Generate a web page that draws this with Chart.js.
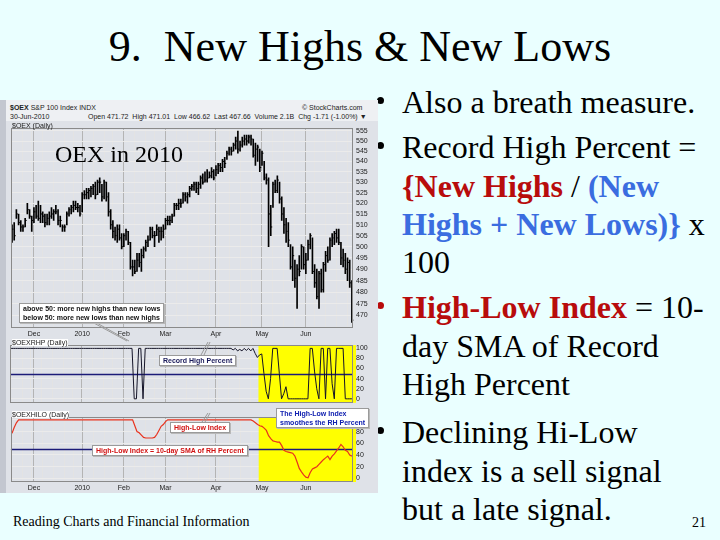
<!DOCTYPE html>
<html>
<head>
<meta charset="utf-8">
<script src="https://cdn.jsdelivr.net/npm/chart.js@4.4.1/dist/chart.umd.min.js"></script>
<style>
  body { margin:0; width:720px; height:540px; background:#eaffff; position:relative; overflow:hidden;
         font-family:"Liberation Serif","Times New Roman",serif; }
  .t { position:absolute; white-space:nowrap; line-height:1; }
  #title { left:0; width:720px; top:25px; text-align:center; font-size:44px; }
  .ln { left:402px; font-size:32px; }
  .dot { position:absolute; left:377px; width:7px; height:7px; border-radius:50%; background:#000; }
  .red { color:#b80c0c; font-weight:bold; }
  .blue { color:#3a6de0; font-weight:bold; }
  #frame { position:absolute; left:0; top:100px; width:378px; height:393px; background:#dfe2e8; }
  #edge { position:absolute; left:0; top:100px; width:6px; height:393px; background:#c3c7d0; }
  #head { position:absolute; left:6px; top:100px; width:372px; height:21px; background:#eef0f3; }
  .sm { position:absolute; white-space:nowrap; font-family:"Liberation Sans",Arial,sans-serif; font-size:7px; color:#222; line-height:1; }
  canvas { position:absolute; }
  .box { position:absolute; background:#fff; border:1px solid #9a9a9a; box-shadow:1px 1px 0 #b8b8b8;
         font-family:"Liberation Sans",Arial,sans-serif; font-size:7px; font-weight:bold; line-height:9px;
         white-space:nowrap; padding:0 3px; z-index:5; }
  svg { position:absolute; left:0; top:0; z-index:4; }
</style>
</head>
<body>
<div id="title" class="t">9.&nbsp; New Highs &amp; New Lows</div>

<div class="dot" style="top:97px"></div>
<div class="t ln" style="top:86px">Also a breath measure.</div>
<div class="dot" style="top:142px"></div>
<div class="t ln" style="top:131px">Record High Percent =</div>
<div class="t ln" style="top:170px"><span class="red">{New Highs</span> / <span class="blue">(New</span></div>
<div class="t ln" style="top:208px"><span class="blue">Highs + New Lows)}</span> x</div>
<div class="t ln" style="top:246px">100</div>
<div class="dot" style="top:302px;background:#b80c0c"></div>
<div class="t ln" style="top:291px"><span class="red">High-Low Index</span> = 10-</div>
<div class="t ln" style="top:330px">day SMA of Record</div>
<div class="t ln" style="top:368px">High Percent</div>
<div class="dot" style="top:427px"></div>
<div class="t ln" style="top:416px">Declining Hi-Low</div>
<div class="t ln" style="top:455px">index is a sell signal</div>
<div class="t ln" style="top:493px">but a late signal.</div>

<div class="t" style="left:13px;top:515px;font-size:14px">Reading Charts and Financial Information</div>
<div class="t" style="left:692px;top:516px;font-size:14px">21</div>

<div id="frame"></div>
<div id="edge"></div>
<div id="head"></div>
<div class="sm" style="left:10px;top:104px"><b>$OEX</b> S&amp;P 100 Index INDX</div>
<div class="sm" style="left:302px;top:104px">© StockCharts.com</div>
<div class="sm" style="left:10px;top:113px">30-Jun-2010</div>
<div class="sm" style="left:88px;top:113px">Open 471.72&nbsp; High 471.01&nbsp; Low 466.62&nbsp; Last 467.66&nbsp; Volume 2.1B&nbsp; Chg -1.71 (-1.00%) ▼</div>

<canvas id="price" width="368" height="217" style="left:10px;top:121px"></canvas>
<canvas id="rhp" width="368" height="72" style="left:10px;top:338px"></canvas>
<canvas id="hli" width="368" height="83" style="left:10px;top:410px"></canvas>

<div class="sm" style="left:12px;top:122px;z-index:3">$OEX (Daily)</div>
<div class="t" style="left:55px;top:142px;font-size:24px;z-index:3">OEX in 2010</div>
<div class="sm" style="left:12px;top:339px;z-index:3;background:#fff">$OEXRHP (Daily)</div>
<div class="sm" style="left:12px;top:411px;z-index:3;background:#fff">$OEXHILO (Daily)</div>

<svg width="720" height="540">
  <g stroke="#9a9a9a" stroke-width="1" fill="none">
    <line x1="92" y1="322" x2="127" y2="341"/>
    <line x1="95" y1="322" x2="129" y2="341"/>
    <line x1="201" y1="355" x2="208" y2="342"/>
    <line x1="204" y1="355" x2="210" y2="342"/>
    <line x1="202" y1="422" x2="208" y2="413"/>
    <line x1="205" y1="422" x2="210" y2="413"/>
  </g>
</svg>
<div class="box" style="left:19px;top:303px;color:#111">above 50: more new highs than new lows<br>below 50: more new lows than new highs</div>
<div class="box" style="left:159px;top:355px;color:#1a1a5a">Record High Percent</div>
<div class="box" style="left:170px;top:422px;color:#d01010">High-Low Index</div>
<div class="box" style="left:92px;top:445px;color:#d01010">High-Low Index = 10-day SMA of RH Percent</div>
<div class="box" style="left:276px;top:408px;color:#1020b0">The High-Low Index<br>smoothes the RH Percent</div>

<script>
const tradingDays = [
  '2009-11-16','2009-11-17','2009-11-18','2009-11-19','2009-11-20','2009-11-23','2009-11-24','2009-11-25','2009-11-27','2009-11-30',
  '2009-12-01','2009-12-02','2009-12-03','2009-12-04','2009-12-07','2009-12-08','2009-12-09','2009-12-10','2009-12-11','2009-12-14',
  '2009-12-15','2009-12-16','2009-12-17','2009-12-18','2009-12-21','2009-12-22','2009-12-23','2009-12-24','2009-12-28','2009-12-29',
  '2009-12-30','2009-12-31','2010-01-04','2010-01-05','2010-01-06','2010-01-07','2010-01-08','2010-01-11','2010-01-12','2010-01-13',
  '2010-01-14','2010-01-15','2010-01-19','2010-01-20','2010-01-21','2010-01-22','2010-01-25','2010-01-26','2010-01-27','2010-01-28',
  '2010-01-29','2010-02-01','2010-02-02','2010-02-03','2010-02-04','2010-02-05','2010-02-08','2010-02-09','2010-02-10','2010-02-11',
  '2010-02-12','2010-02-16','2010-02-17','2010-02-18','2010-02-19','2010-02-22','2010-02-23','2010-02-24','2010-02-25','2010-02-26',
  '2010-03-01','2010-03-02','2010-03-03','2010-03-04','2010-03-05','2010-03-08','2010-03-09','2010-03-10','2010-03-11','2010-03-12',
  '2010-03-15','2010-03-16','2010-03-17','2010-03-18','2010-03-19','2010-03-22','2010-03-23','2010-03-24','2010-03-25','2010-03-26',
  '2010-03-29','2010-03-30','2010-03-31','2010-04-01','2010-04-05','2010-04-06','2010-04-07','2010-04-08','2010-04-09','2010-04-12',
  '2010-04-13','2010-04-14','2010-04-15','2010-04-16','2010-04-19','2010-04-20','2010-04-21','2010-04-22','2010-04-23','2010-04-26',
  '2010-04-27','2010-04-28','2010-04-29','2010-04-30','2010-05-03','2010-05-04','2010-05-05','2010-05-06','2010-05-07','2010-05-10',
  '2010-05-11','2010-05-12','2010-05-13','2010-05-14','2010-05-17','2010-05-18','2010-05-19','2010-05-20','2010-05-21','2010-05-24',
  '2010-05-25','2010-05-26','2010-05-27','2010-05-28','2010-06-01','2010-06-02','2010-06-03','2010-06-04','2010-06-07','2010-06-08',
  '2010-06-09','2010-06-10','2010-06-11','2010-06-14','2010-06-15','2010-06-16','2010-06-17','2010-06-18','2010-06-21','2010-06-22',
  '2010-06-23','2010-06-24','2010-06-25','2010-06-28','2010-06-29','2010-06-30'
];

const monthTicks = {
  '2009-12-01': 'Dec', '2010-01-04': '2010', '2010-02-01': 'Feb', '2010-03-01': 'Mar',
  '2010-04-01': 'Apr', '2010-05-03': 'May', '2010-06-01': 'Jun'
};

const priceTicks = [470, 475, 480, 485, 490, 495, 500, 505, 510, 515, 520, 525, 530, 535, 540, 545, 550, 555];
const percentTicks = [0, 20, 40, 60, 80, 100];

// $OEX daily bars
const highValues = [
  510,511,517,515,512,510,513,520,517,514,
  518,519,521,519,516,515,515,516,518,517,
  519,517,514,510,510,516,518,519,521,521,
  520,519,525,526,527,527,528,529,530,531,
  532,529,531,530,525,517,512,509,510,510,
  506,506,508,507,502,494,494,497,497,499,
  500,503,505,509,509,507,510,509,509,510,
  513,514,514,515,520,520,522,522,525,525,
  525,528,529,530,530,530,533,534,535,536,
  535,537,536,538,539,539,541,542,545,547,
  547,549,552,555,550,552,553,553,553,553,
  551,549,548,546,545,540,534,532,519,530,
  531,533,530,523,518,513,511,501,500,494,
  492,496,501,500,497,503,506,504,492,490,
  489,490,493,498,500,504,506,507,508,508,
  502,499,497,495,494,485
];
const lowValues = [
  502,503,513,510,507,507,509,515,513,507,
  511,513,512,511,511,509,510,510,513,512,
  515,510,509,507,507,510,514,515,516,517,
  516,514,516,522,522,522,523,524,522,524,
  525,521,522,521,514,508,504,503,502,503,
  499,500,503,501,490,487,488,489,491,489,
  495,498,500,503,504,500,505,502,503,504,
  508,510,510,511,514,517,517,518,520,521,
  520,523,526,526,525,524,527,529,530,530,
  532,532,531,533,534,535,535,537,541,543,
  543,545,546,544,545,547,548,548,549,548,
  542,538,540,535,538,531,529,500,505,518,
  525,525,520,512,506,502,500,490,485,482,
  473,487,490,490,488,494,499,488,482,477,
  473,480,480,489,493,494,500,501,502,501,
  492,491,488,485,482,467
];
const closeValues = [
  508,505,515,511,509,509,512,517,514,512,
  516,514,513,515,514,511,513,514,515,516,
  516,512,512,509,509,515,517,518,519,518,
  518,515,524,524,525,526,527,528,524,530,
  530,523,530,523,516,510,507,505,508,504,
  500,505,507,502,491,491,489,494,493,496,
  499,502,503,508,505,505,508,507,507,508,
  512,512,512,514,519,519,520,520,524,523,
  524,527,528,529,527,529,532,530,531,532,
  533,535,532,536,538,537,540,539,544,546,
  545,548,550,546,548,550,551,550,552,551,
  543,546,547,537,544,532,531,515,509,529,
  526,531,522,515,510,507,503,491,496,486,
  490,489,500,492,494,501,505,489,484,478,
  488,481,492,496,494,503,504,506,504,502,
  495,494,490,493,484,468
];

// Record High Percent
const rhpValues = [
  100,100,100,100,100,100,100,100,100,100,
  100,100,100,100,100,100,100,100,100,100,
  100,100,100,100,100,100,100,100,100,100,
  100,100,100,100,100,100,100,100,100,100,
  100,100,100,100,100,100,100,100,100,100,
  100,100,100,100,100,100,0,0,100,100,
  0,100,100,100,100,100,100,100,100,100,
  100,100,100,100,100,100,100,100,100,100,
  100,100,100,100,100,100,100,100,100,100,
  100,100,100,100,100,100,100,100,100,100,
  100,97,100,95,98,95,100,96,100,95,
  100,90,82,87,89,50,15,0,40,100,
  100,100,50,0,10,24,0,0,0,0,
  0,0,0,0,0,0,100,100,55,20,
  0,100,100,0,100,100,30,0,100,100,
  100,100,0,0,0,0
];

// High-Low Index (10-day SMA of RHP)
const hliValues = [
  77,87,95,100,100,100,100,100,100,100,
  100,100,100,100,100,100,100,100,100,100,
  100,100,100,100,100,100,100,100,100,100,
  100,100,100,100,100,100,100,100,100,100,
  100,100,100,100,100,100,100,100,100,100,
  100,100,100,100,100,100,90,80,78,74,
  70,69,69,69,69,70,75,82,89,92,
  97,100,100,100,100,100,100,100,100,100,
  100,100,100,100,100,100,100,100,100,100,
  100,100,100,100,100,100,100,100,100,100,
  100,100,100,100,100,100,100,100,100,100,
  98,95,92,90,89,86,82,73,68,64,
  63,62,62,56,48,46,45,44,43,38,
  28,17,11,6,2,1,10,16,18,20,
  24,28,32,35,38,32,38,42,47,52,
  58,54,48,46,40,38
];

const highlightFrom = '2010-04-30';
const midLevel = 50;

Chart.defaults.font.family = '"Liberation Sans", Arial, sans-serif';
Chart.defaults.font.size = 7;
Chart.defaults.color = '#222';
Chart.defaults.animation = false;

function isWeekStart(i) {
    if (i === 0) return false;
    return new Date(tradingDays[i]).getUTCDay() <= new Date(tradingDays[i - 1]).getUTCDay();
}

function vGridColor(ctx) {
    const d = tradingDays[ctx.index];
    if (monthTicks[d]) return '#b4b4b4';
    return isWeekStart(ctx.index) ? '#e3e3e3' : 'rgba(0,0,0,0)';
}

const panelFrame = {
    id: 'panelFrame',
    afterDraw(chart) {
        const a = chart.chartArea, c = chart.ctx;
        c.save();
        c.strokeStyle = '#8a8a8a';
        c.lineWidth = 1;
        c.strokeRect(Math.round(a.left) + 0.5, Math.round(a.top) + 0.5, Math.round(a.width) - 1, Math.round(a.height) - 1);
        c.restore();
    }
};

const highlight = {
    id: 'highlight',
    beforeDatasetsDraw(chart, args, opts) {
        const a = chart.chartArea, c = chart.ctx, x = chart.scales.x;
        c.save();
        if (opts.from) {
            const i = tradingDays.indexOf(opts.from);
            const left = (x.getPixelForValue(i - 1) + x.getPixelForValue(i)) / 2;
            c.fillStyle = '#ffff00';
            c.fillRect(left, a.top, a.right + 3 - left, a.height);
        }
        if (opts.level != null) {
            const y = Math.round(chart.scales.y.getPixelForValue(opts.level)) + 0.5;
            c.strokeStyle = '#1c1c78';
            c.lineWidth = 1.5;
            c.beginPath();
            c.moveTo(a.left, y);
            c.lineTo(a.right, y);
            c.stroke();
        }
        c.restore();
    }
};

function xScale(showLabels, height) {
    return {
        offset: true,
        grid: {offset: false, color: vGridColor, drawTicks: false},
        border: {display: false},
        ticks: {
            display: showLabels, autoSkip: false, maxRotation: 0, padding: 2,
            callback: (v, i) => monthTicks[tradingDays[i]] || ''
        },
        afterFit: s => { s.height = height; }
    };
}

function yScale(extra) {
    return Object.assign({
        position: 'right',
        grid: {color: '#ebebeb', drawTicks: false},
        border: {display: false},
        ticks: {padding: 3},
        afterFit: s => { s.width = 25; }
    }, extra);
}

const baseOptions = {
    responsive: false,
    maintainAspectRatio: false,
    layout: {padding: 0, autoPadding: false},
    plugins: {legend: {display: false}, tooltip: {enabled: false}}
};

new Chart(document.getElementById('price'), {
    type: 'bar',
    data: {
        labels: tradingDays,
        datasets: [
            {
                type: 'line',
                data: closeValues,
                showLine: false,
                pointStyle: 'dash',
                pointRadius: 1.5,
                pointBorderColor: '#000',
                pointBorderWidth: 1,
                order: 0
            },
            {
                data: tradingDays.map((d, i) => [lowValues[i], highValues[i]]),
                backgroundColor: '#000',
                barThickness: 1,
                order: 1
            }
        ]
    },
    options: Object.assign({}, baseOptions, {
        scales: {
            x: xScale(true, 10),
            y: yScale({
                type: 'logarithmic',
                min: 464.7,
                max: 556.4,
                afterBuildTicks: s => { s.ticks = priceTicks.map(v => ({value: v})); },
                ticks: {padding: 3, callback: v => String(v)}
            })
        }
    }),
    plugins: [panelFrame]
});

new Chart(document.getElementById('rhp'), {
    type: 'line',
    data: {
        labels: tradingDays,
        datasets: [{
            data: rhpValues,
            borderColor: '#141428',
            borderWidth: 1,
            pointRadius: 0,
            tension: 0
        }]
    },
    options: Object.assign({}, baseOptions, {
        plugins: Object.assign({}, baseOptions.plugins, {highlight: {from: highlightFrom, level: midLevel}}),
        scales: {
            x: xScale(false, 0),
            y: yScale({
                min: -7.9,
                max: 106.3,
                afterBuildTicks: s => { s.ticks = percentTicks.map(v => ({value: v})); }
            })
        }
    }),
    plugins: [highlight, panelFrame]
});

new Chart(document.getElementById('hli'), {
    type: 'line',
    data: {
        labels: tradingDays,
        datasets: [{
            data: hliValues,
            borderColor: '#e8321e',
            borderWidth: 1.2,
            pointRadius: 0,
            tension: 0
        }]
    },
    options: Object.assign({}, baseOptions, {
        plugins: Object.assign({}, baseOptions.plugins, {highlight: {from: highlightFrom, level: midLevel}}),
        scales: {
            x: xScale(true, 11),
            y: yScale({
                min: -6.2,
                max: 104.6,
                afterBuildTicks: s => { s.ticks = percentTicks.map(v => ({value: v})); }
            })
        }
    }),
    plugins: [highlight, panelFrame]
});
</script>
</body>
</html>
